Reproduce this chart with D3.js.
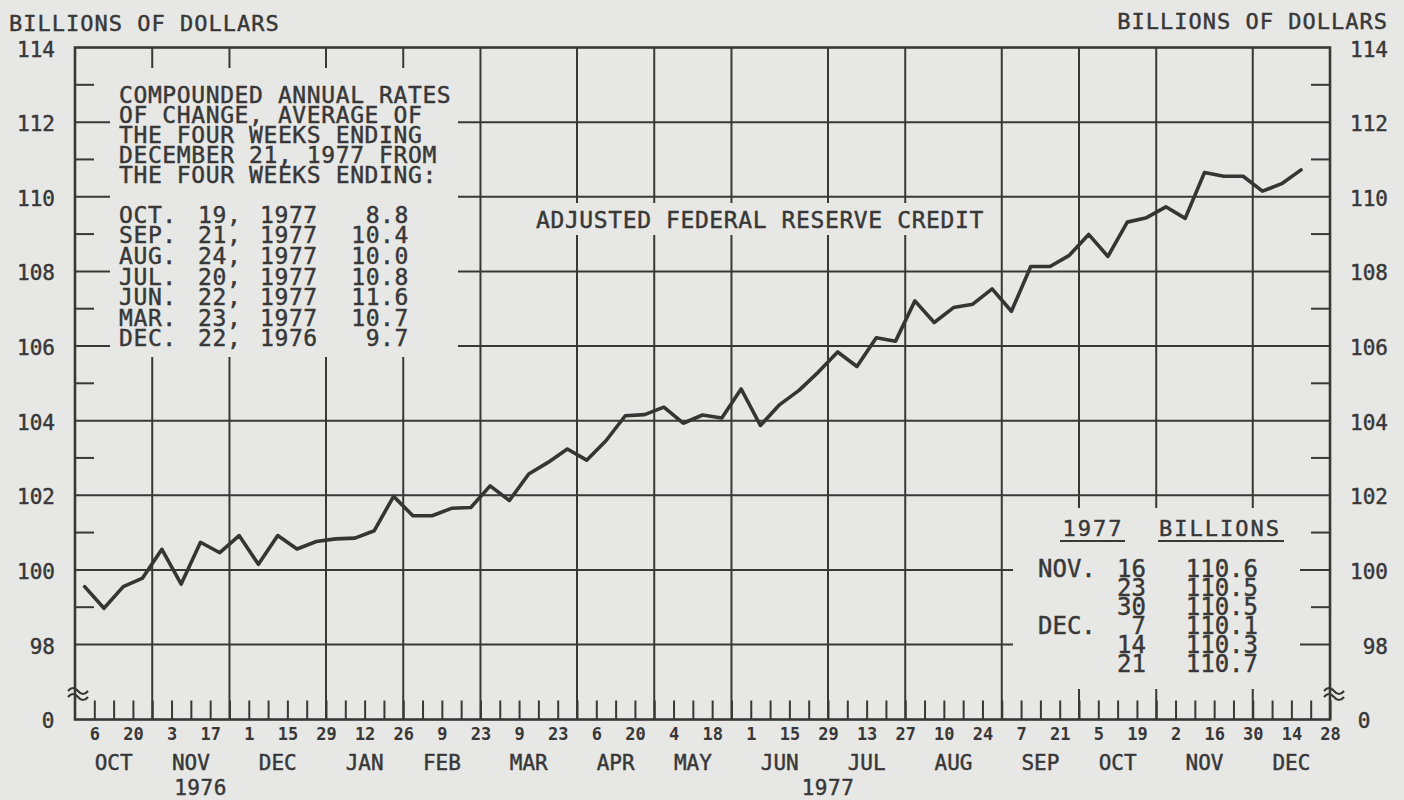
<!DOCTYPE html>
<html><head><meta charset="utf-8">
<script src="https://cdn.jsdelivr.net/npm/d3@7"></script>
<style>html,body{margin:0;padding:0;background:#e7e7e5;}svg{display:block}</style>
</head><body><svg id="c" width="1404" height="800"></svg>
<script>
// ---------------- DATA ----------------
const weeks = [
 "1976-10-06","1976-10-13","1976-10-20","1976-10-27","1976-11-03","1976-11-10","1976-11-17","1976-11-24",
 "1976-12-01","1976-12-08","1976-12-15","1976-12-22","1976-12-29",
 "1977-01-05","1977-01-12","1977-01-19","1977-01-26","1977-02-02","1977-02-09","1977-02-16","1977-02-23",
 "1977-03-02","1977-03-09","1977-03-16","1977-03-23","1977-03-30","1977-04-06","1977-04-13","1977-04-20","1977-04-27",
 "1977-05-04","1977-05-11","1977-05-18","1977-05-25","1977-06-01","1977-06-08","1977-06-15","1977-06-22","1977-06-29",
 "1977-07-06","1977-07-13","1977-07-20","1977-07-27","1977-08-03","1977-08-10","1977-08-17","1977-08-24","1977-08-31",
 "1977-09-07","1977-09-14","1977-09-21","1977-09-28","1977-10-05","1977-10-12","1977-10-19","1977-10-26",
 "1977-11-02","1977-11-09","1977-11-16","1977-11-23","1977-11-30","1977-12-07","1977-12-14","1977-12-21"];
const credit = [
 99.55, 98.97, 99.55, 99.78, 100.55, 99.62, 100.74, 100.46,
 100.92, 100.15, 100.92, 100.56, 100.76,
 100.83, 100.85, 101.05, 101.97, 101.45, 101.45, 101.65, 101.67,
 102.25, 101.86, 102.57, 102.88, 103.24, 102.94, 103.46, 104.13, 104.16,
 104.36, 103.93, 104.15, 104.07, 104.85, 103.87, 104.43, 104.81, 105.30,
 105.84, 105.45, 106.22, 106.13, 107.21, 106.63, 107.03, 107.12, 107.53,
 106.93, 108.13, 108.13, 108.43, 108.99, 108.40, 109.32, 109.44,
 109.73, 109.42, 110.65, 110.55, 110.55, 110.15, 110.35, 110.72];
const gridValues = [98, 100, 102, 104, 106, 108, 110, 112];
const labelValues = [98, 100, 102, 104, 106, 108, 110, 112, 114];
const minorValues = [99, 101, 103, 105, 107, 109, 111, 113];
const monthBounds = ["1976-09-29","1976-10-27","1976-11-24","1976-12-29","1977-01-26","1977-02-23","1977-03-30",
 "1977-04-27","1977-05-25","1977-06-29","1977-07-27","1977-08-31","1977-09-28","1977-10-26","1977-11-30","1977-12-28"];
const monthNames = ["OCT","NOV","DEC","JAN","FEB","MAR","APR","MAY","JUN","JUL","AUG","SEP","OCT","NOV","DEC"];
const yearLabels = ["1976","1977"];
const yearBounds = [["1976-09-29","1976-12-29"],["1976-12-29","1977-12-28"]];
const noteLines = ["COMPOUNDED ANNUAL RATES","OF CHANGE, AVERAGE OF","THE FOUR WEEKS ENDING","DECEMBER 21, 1977 FROM","THE FOUR WEEKS ENDING:"];
const rateMonths = ["OCT.","SEP.","AUG.","JUL.","JUN.","MAR.","DEC."];
const rateDays = ["19,","21,","24,","20,","22,","23,","22,"];
const rateYears = ["1977","1977","1977","1977","1977","1977","1976"];
const rateValues = ["8.8","10.4","10.0","10.8","11.6","10.7","9.7"];
const tableHead = ["1977","BILLIONS"];
const tableMonths = ["NOV.","","","DEC.","",""];
const tableDays = ["16","23","30","7","14","21"];
const tableValues = ["110.6","110.5","110.5","110.1","110.3","110.7"];
const chartTitle = "ADJUSTED FEDERAL RESERVE CREDIT";
const unitLabel = "BILLIONS OF DOLLARS";

// ---------------- SETUP ----------------
const ink = "#383838", bg = "#e7e7e5";
const FONT = "'DejaVu Sans Mono', monospace";
const L = 75, R = 1330, T = 47.5, ZERO = 719.5;
const parse = d3.utcParse("%Y-%m-%d");
const svg = d3.select("#c");
svg.append("rect").attr("width",1404).attr("height",800).attr("fill",bg);

const x = d3.scaleUtc().domain([parse("1976-09-29"), parse("1977-12-28")]).range([L, R]);
const y = d3.scaleLinear().domain([98, 114]).range([644.5, T]);
const plotX = d => x(d3.utcHour.offset(d, -84)); // weekly points drawn at mid-week

// grid
const grid = svg.append("g").attr("stroke", ink).attr("stroke-width", 2);
grid.selectAll("line.h").data(gridValues).join("line")
  .attr("x1", L).attr("x2", R).attr("y1", d => y(d)).attr("y2", d => y(d));
grid.selectAll("line.v").data(monthBounds.slice(1, -1).map(parse)).join("line").attr("class","v")
  .attr("x1", d => x(d)).attr("x2", d => x(d)).attr("y1", T).attr("y2", ZERO);
grid.selectAll("line.ml").data(minorValues).join("line").attr("class","ml")
  .attr("x1", L).attr("x2", L + 19).attr("y1", d => y(d)).attr("y2", d => y(d));
grid.selectAll("line.mr").data(minorValues).join("line").attr("class","mr")
  .attr("x1", R - 19).attr("x2", R).attr("y1", d => y(d)).attr("y2", d => y(d));

// weekly axis
const tickDates = d3.utcWednesday.range(parse("1976-10-06"), parse("1977-12-29"));
const dayFmt = d3.utcFormat("%-d");
const xAxis = d3.axisBottom(x).tickValues(tickDates).tickSizeInner(-19).tickSizeOuter(0).tickPadding(8.5)
  .tickFormat((d, i) => i % 2 === 0 ? dayFmt(d) : "");
const ax = svg.append("g").attr("transform", `translate(0,${ZERO})`).call(xAxis);
ax.select(".domain").remove();
ax.selectAll("line").attr("stroke", ink).attr("stroke-width", 2);
ax.selectAll("text").attr("fill", ink).style("font-family", FONT).style("font-size", "17px").style("font-weight","bold");

// masks (panel backgrounds)
const masks = [[110, 68, 348, 289], [528, 203, 464, 32], [1013, 508, 287, 181]];
svg.selectAll("rect.mask").data(masks).join("rect").attr("class","mask")
  .attr("x", d => d[0]).attr("y", d => d[1]).attr("width", d => d[2]).attr("height", d => d[3]).attr("fill", bg);

// frame
svg.append("rect").attr("x", L).attr("y", T).attr("width", R - L).attr("height", ZERO - T)
  .attr("fill", "none").attr("stroke", ink).attr("stroke-width", 2.6);

// break symbols
[L + 3, R + 4].forEach(cx => {
  [690, 696].forEach(cy => {
    svg.append("path").attr("d", `M${cx-10},${cy+1} q5,-6 10,0 t10,0`)
      .attr("fill","none").attr("stroke", ink).attr("stroke-width", 2.2);
  });
});

// text helper
function txt(s, px, py, size, anchor, ls) {
  return svg.append("text").text(s).attr("x", px).attr("y", py).attr("fill", ink)
    .attr("stroke", ink).attr("stroke-width", 0.45)
    .attr("text-anchor", anchor || "start").style("font-family", FONT).style("font-size", size + "px")
    .style("letter-spacing", (ls || 0) + "px");
}

// y labels
labelValues.forEach(v => {
  txt(String(v), 55, y(v) + 9, 21, "end");
  txt(String(v), 1388, y(v) + 9, 21, "end");
});
txt("0", 48, ZERO + 8, 21, "middle");
txt("0", 1364, ZERO + 8, 21, "middle");

// unit labels
txt(unitLabel, 9, 31, 22, "start", 1);
txt(unitLabel, 1388, 29, 22, "end", 1);

// month & year labels
monthNames.forEach((m, i) => {
  const cx = (x(parse(monthBounds[i])) + x(parse(monthBounds[i + 1]))) / 2;
  txt(m, cx, 769.5, 21, "middle");
});
yearLabels.forEach((yl, i) => {
  const cx = (x(parse(yearBounds[i][0])) + x(parse(yearBounds[i][1]))) / 2;
  txt(yl, cx, 794.5, 21, "middle", 0.5);
});

// note box
noteLines.forEach((s, i) => txt(s, 119, 103.3 + i * 20, 23, "start", 0.6));
rateMonths.forEach((m, i) => {
  const by = 222.7 + i * 20.6;
  txt(m, 119, by, 23, "start", 0.6);
  txt(rateDays[i], 198, by, 23, "start", 0.6);
  txt(rateYears[i], 260, by, 23, "start", 0.6);
  txt(rateValues[i], 409, by, 23, "end", 0.6);
});

// title
txt(chartTitle, 536, 227.5, 23, "start", 0.6);

// table
txt(tableHead[0], 1093, 536, 22, "middle", 2);
txt(tableHead[1], 1220, 536, 22, "middle", 2);
svg.append("line").attr("x1",1060).attr("x2",1125).attr("y1",541).attr("y2",541).attr("stroke",ink).attr("stroke-width",2);
svg.append("line").attr("x1",1158).attr("x2",1284).attr("y1",541).attr("y2",541).attr("stroke",ink).attr("stroke-width",2);
tableDays.forEach((d, i) => {
  const by = 577 + i * 19;
  if (tableMonths[i]) txt(tableMonths[i], 1038, by, 24, "start");
  txt(d, 1146, by, 24, "end");
  txt(tableValues[i], 1258, by, 24, "end");
});

// data line
const line = d3.line().x((d, i) => plotX(parse(weeks[i]))).y(d => y(d));
svg.append("path").datum(credit).attr("d", line).attr("fill", "none")
  .attr("stroke", "#353535").attr("stroke-width", 3.6).attr("stroke-linejoin", "round").attr("stroke-linecap","round");
</script></body></html>
